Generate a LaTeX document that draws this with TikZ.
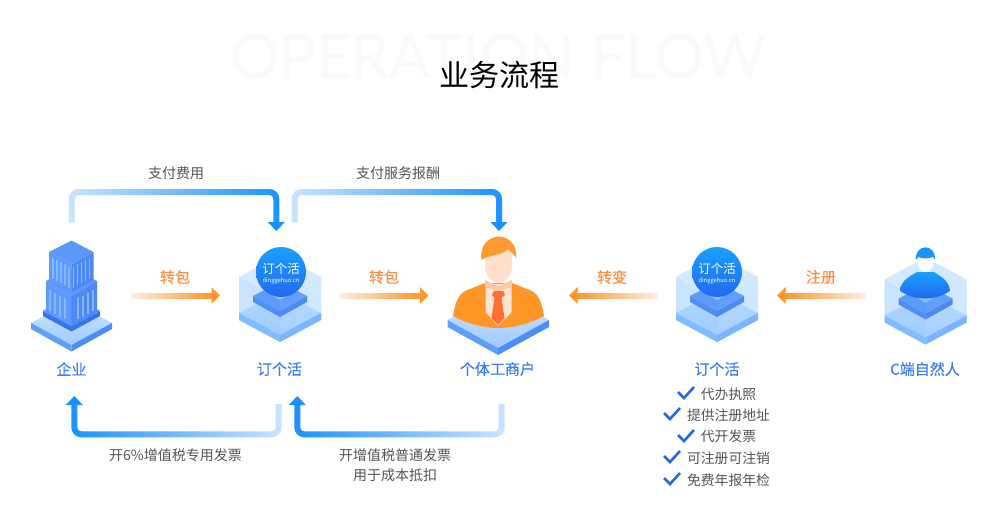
\documentclass[tikz,border=0pt]{standalone}
\usepackage{fontspec}
\setmainfont{Noto Sans CJK SC}
\newfontfamily\wmfont{Lato}
\newfontfamily\medfont[FakeBold=0.35]{Noto Sans CJK SC}
\usetikzlibrary{arrows.meta,fadings,positioning}
\definecolor{cblue}{HTML}{1890FF}
\definecolor{corange}{HTML}{FF982E}
\definecolor{lblorange}{HTML}{FF8F45}
\definecolor{lblblue}{HTML}{3D7FEF}
\definecolor{txtgray}{HTML}{555555}
\definecolor{chk}{HTML}{2468E8}
\tikzfading[name=fadeleft,left color=transparent!22,right color=transparent!100]
\tikzfading[name=faderight,left color=transparent!100,right color=transparent!22]
\tikzfading[name=oleft,left color=transparent!14,right color=transparent!100]
\tikzfading[name=oright,left color=transparent!100,right color=transparent!14]
\tikzset{
  fs/.style={font=\fontsize{#1}{#1}\selectfont},
  mfs/.style={font=\medfont\fontsize{#1}{#1}\selectfont},
  blueconn/.style={draw=cblue,line width=6pt,rounded corners=7pt,-{Triangle[length=9pt,width=16.5pt]}},
  orangeconn/.style={draw=corange,line width=6pt,-{Triangle[length=8.5pt,width=16pt]}},
  graylabel/.style={text=txtgray,fs=14,inner sep=0pt},
  orangelabel/.style={text=lblorange,mfs=15,inner sep=0pt},
  namelabel/.style={text=lblblue,mfs=15,inner sep=0pt},
  checklabel/.style={text=txtgray,fs=13.8,inner sep=0pt},
  checkmark/.style={draw=chk,line width=2.6pt},
  stripe/.style={draw=#1,line width=1.5pt},
  logotext/.style={text=white,inner sep=0pt},
  dghcube/.pic={
    \fill[fill=HexBack] (-41,-23)--(0,-45)--(41,-23)--(41,20)--(0,42)--(-41,20)--cycle;
    \shade[top color=SlabA,bottom color=SlabB] (-41,13)--(0,-9)--(41,13)--(0,35)--cycle;
    \fill[SlabL] (-41,13)--(0,35)--(0,42)--(-41,20)--cycle;
    \fill[SlabR] (41,13)--(0,35)--(0,42)--(41,20)--cycle;
    \fill[PlateL] (-27,-4)--(0,11)--(0,17)--(-27,2)--cycle;
    \fill[PlateR] (27,-4)--(0,11)--(0,17)--(27,2)--cycle;
    \fill[PlateT] (-27,-4)--(0,-18)--(27,-4)--(0,11)--cycle;
    \fill[FaceL,opacity=.22] (-41,-23)--(0,0)--(0,42)--(-41,20)--cycle;
    \fill[FaceR,opacity=.22] (41,-23)--(0,0)--(0,42)--(41,20)--cycle;
    \fill[TopF,opacity=.55] (-41,-23)--(0,-45)--(41,-23)--(0,0)--cycle;
  }
}
\definecolor{HexBack}{HTML}{DCEEFF}
\definecolor{SlabA}{HTML}{BFDDFF}
\definecolor{SlabB}{HTML}{A4CFFF}
\definecolor{SlabL}{HTML}{7CBCFF}
\definecolor{SlabR}{HTML}{6CAEFF}
\definecolor{PlateL}{HTML}{3F80F3}
\definecolor{PlateR}{HTML}{3574EE}
\definecolor{PlateT}{HTML}{4E91F9}
\definecolor{FaceL}{HTML}{8CC4FF}
\definecolor{FaceR}{HTML}{A8D4FF}
\definecolor{TopF}{HTML}{CDE5FF}
\definecolor{BldL}{HTML}{5E9AFB}
\definecolor{BldR}{HTML}{4D89F6}
\definecolor{BldT}{HTML}{5C98FA}
\definecolor{Strp}{HTML}{86B4FE}
\definecolor{LogoA}{HTML}{18A0FF}
\definecolor{LogoB}{HTML}{2468F0}
\definecolor{BaseA}{HTML}{CFE5FF}
\definecolor{BaseB}{HTML}{9FCBFF}
\definecolor{BaseL}{HTML}{5E9FFA}
\definecolor{BaseR}{HTML}{4C8DF6}
\definecolor{Hair}{HTML}{FF9A2E}
\definecolor{Suit}{HTML}{FF9628}
\definecolor{Skin}{HTML}{FFE0CC}
\definecolor{Shirt}{HTML}{FFE4D2}
\definecolor{Collar}{HTML}{FFC9A3}
\definecolor{Tie}{HTML}{FF6F33}
\definecolor{Wm}{HTML}{FAFAFA}
\begin{document}
\begin{tikzpicture}[x=1pt,y=-1pt]
\useasboundingbox (0,0) rectangle (1007,525);
\fill[white] (0,0) rectangle (1007,525);

% headings
\node[text=Wm,inner sep=0pt] (watermark) at (498.5,57) {\wmfont\fontsize{61}{61}\selectfont OPERATION FLOW};
\node[text=black,fs=30,inner sep=0pt] (title) at (499,75) {业务流程};

% connector ends
\coordinate (qiyeTop) at (71.7,222);
\coordinate (dgh1In) at (276.3,231);
\coordinate (dgh1Out) at (294.5,222);
\coordinate (gtIn) at (499,231);
\coordinate (topA) at (170,192);
\coordinate (topB) at (400,192);
\coordinate (dgh1Bot) at (278.7,404);
\coordinate (qiyeIn) at (74.3,396);
\coordinate (gtBot) at (501.7,404);
\coordinate (dgh1In2) at (297.3,396);
\coordinate (botA) at (170,434.3);
\coordinate (botB) at (400,434.3);
\coordinate (o1s) at (131,295.5);
\coordinate (o1e) at (220,295.5);
\coordinate (o2s) at (340,295.5);
\coordinate (o2e) at (428.5,295.5);
\coordinate (o3s) at (658,295.5);
\coordinate (o3e) at (569,295.5);
\coordinate (o4s) at (866,295.5);
\coordinate (o4e) at (777,295.5);

% blue connectors
\draw[blueconn] (qiyeTop) |- (topA) -| (dgh1In);
\fill[white,path fading=fadeleft] (65,186) rectangle (285,222);
\draw[blueconn] (dgh1Out) |- (topB) -| (gtIn);
\fill[white,path fading=fadeleft] (288,186) rectangle (508,222);
\draw[blueconn] (dgh1Bot) |- (botA) -| (qiyeIn);
\fill[white,path fading=faderight] (66,404) rectangle (285,441);
\draw[blueconn] (gtBot) |- (botB) -| (dgh1In2);
\fill[white,path fading=faderight] (289,404) rectangle (508,441);

% orange connectors
\draw[orangeconn] (o1s) -- (o1e);
\fill[white,path fading=oleft] (130,291) rectangle (212,300);
\draw[orangeconn] (o2s) -- (o2e);
\fill[white,path fading=oleft] (339,291) rectangle (420,300);
\draw[orangeconn] (o3s) -- (o3e);
\fill[white,path fading=oright] (577,291) rectangle (659,300);
\draw[orangeconn] (o4s) -- (o4e);
\fill[white,path fading=oright] (785,291) rectangle (867,300);

% building icon
\shade[top color=BaseA,bottom color=BaseB] (31,323)--(71.5,301)--(112,323)--(71.5,345)--cycle;
\fill[BaseL] (31,323)--(71.5,345)--(71.5,351.5)--(31,329)--cycle;
\fill[BaseR] (112,323)--(71.5,345)--(71.5,351.5)--(112,329)--cycle;
\fill[PlateR] (43,311)--(71.5,326)--(100,311)--(100,316)--(71.5,331.5)--(43,316)--cycle;
\fill[PlateT] (43,311)--(71.5,296)--(100,311)--(71.5,326)--cycle;
\fill[BldT] (46,281)--(71.5,268)--(97,281)--(71.5,296)--cycle;
\fill[BldL] (46,281)--(71.5,296)--(71.5,326)--(46,312)--cycle;
\fill[BldR] (97,281)--(71.5,296)--(71.5,326)--(97,312)--cycle;
\fill[BldL] (49,252)--(71.5,264)--(71.5,292)--(49,280)--cycle;
\fill[BldR] (93.5,252)--(71.5,264)--(71.5,292)--(93.5,280)--cycle;
\fill[BldT] (49,252)--(71.5,240.5)--(93.5,252)--(71.5,264)--cycle;
\foreach \d in {4,8,12,16,20}{
  \draw[stripe=Strp] ({49+\d},{256+\d*.53}) -- ({49+\d},{277+\d*.53});
  \draw[stripe=Strp] ({93.5-\d},{256+\d*.53}) -- ({93.5-\d},{277+\d*.53});
}
\foreach \d in {4,9,14,19}{
  \draw[stripe=Strp] ({46+\d},{288+\d*.55}) -- ({46+\d},{309+\d*.55});
  \draw[stripe=Strp] ({97-\d},{288+\d*.55}) -- ({97-\d},{309+\d*.55});
}

% cubes
\pic at (280,300) {dghcube};
\pic at (717,300) {dghcube};
\pic at (925.5,302.5) {dghcube};

% logos
\shade[top color=LogoA,bottom color=LogoB] (281,272) circle (25);
\node[logotext] (logo1) at (281,269) {\fontsize{12.5}{13}\selectfont 订个活};
\node[logotext] (logo1url) at (281,280.5) {\fontsize{5.8}{6}\selectfont dinggehuo.cn};
\shade[top color=LogoA,bottom color=LogoB] (717,272) circle (25);
\node[logotext] (logo2) at (717,269) {\fontsize{12.5}{13}\selectfont 订个活};
\node[logotext] (logo2url) at (717,280.5) {\fontsize{5.8}{6}\selectfont dinggehuo.cn};

% C person
\shade[top color=LogoA,bottom color=LogoB] (900,291) .. controls (901,282) and (905,279) .. (917,272) -- (934,272) .. controls (945,279) and (949,282) .. (950,291) .. controls (940,297) and (935,298) .. (925,298.5) .. controls (915,298) and (910,297) .. (900,291) -- cycle;
\fill[LogoA!80!LogoB] (915.7,259) .. controls (915.7,252) and (920,247.3) .. (925.4,247.3) .. controls (931,247.3) and (935.2,252) .. (935.2,259) -- cycle;
\fill[white!85!HexBack] (917.5,257) .. controls (922,259) and (929,259) .. (933.5,257) -- (933.5,263) .. controls (933,269) and (929,272) .. (925.5,272) .. controls (922,272) and (918,269) .. (917.5,263) -- cycle;

% orange person
\shade[top color=BaseA,bottom color=BaseB] (447.5,320)--(498,292)--(549,320)--(498,348)--cycle;
\fill[BaseL] (447.5,320)--(498,348)--(498,355)--(447.5,327)--cycle;
\fill[BaseR] (549,320)--(498,348)--(498,355)--(549,327)--cycle;
\fill[Suit] (453,316) .. controls (456,298) and (460,292) .. (470,289) -- (485,283) -- (512,283) -- (527,289) .. controls (537,292) and (541,298) .. (544,316) .. controls (530,324) and (512,328) .. (498,328) .. controls (485,328) and (467,324) .. (453,316) -- cycle;
\fill[Shirt] (485.5,284) -- (511.7,284) -- (511.7,312) -- (498,326) -- (485.5,312) -- cycle;
\fill[Collar] (485,280) -- (498,286) -- (512,280) -- (512,287) -- (498,291) -- (485,287) -- cycle;
\fill[Tie] (494,291)--(503,291)--(505,295)--(501.5,298)--(504.5,318)--(498,325)--(491.5,318)--(494.5,298)--(492,295)--cycle;
\fill[Skin] (485,248) -- (512,248) -- (512,268) .. controls (511,277) and (504,283) .. (498.5,283) .. controls (493,283) and (486,277) .. (485,268) -- cycle;
\fill[Hair] (481.5,260) .. controls (479,245) and (490,236.5) .. (498.5,236.5) .. controls (508,236.5) and (518,245) .. (516,258) .. controls (514,254) and (511,252) .. (508,249) .. controls (502,256) and (490,254) .. (481.5,260) -- cycle;

% connector labels
\node[graylabel] (payFee) at (176,173) {支付费用};
\node[graylabel] (payRemun) at (398,173) {支付服务报酬};
\node[orangelabel] (zb1) at (175,277) {转包};
\node[orangelabel] (zb2) at (384,277) {转包};
\node[orangelabel] (zb3) at (612,277) {转变};
\node[orangelabel] (zc) at (821,277) {注册};
\node[graylabel] (inv1) at (175.5,455) {开6\%增值税专用发票};
\node[graylabel] (inv2) at (395,455) {开增值税普通发票};
\node[graylabel] (inv3) at (395,475) {用于成本抵扣};

% icon names
\node[namelabel] (nQiye) at (71.5,369) {企业};
\node[namelabel] (nDgh1) at (279.5,369) {订个活};
\node[namelabel] (nGt) at (497.5,369) {个体工商户};
\node[namelabel] (nDgh2) at (717,369) {订个活};
\node[namelabel] (nC) at (925,369) {C端自然人};

% check list
\node[checklabel] (c1) at (728.5,394) {代办执照};
\node[checklabel] (c2) at (728.5,415) {提供注册地址};
\node[checklabel] (c3) at (728.5,436.5) {代开发票};
\node[checklabel] (c4) at (728.5,458) {可注册可注销};
\node[checklabel] (c5) at (728.5,480) {免费年报年检};
\draw[checkmark] (678,392)--(684,398)--(694,387);
\draw[checkmark] (664,413)--(670,419)--(680,408);
\draw[checkmark] (678,435)--(684,441)--(694,430);
\draw[checkmark] (664,456)--(670,462)--(680,451);
\draw[checkmark] (664,478)--(670,484)--(680,473);
\end{tikzpicture}
\end{document}
